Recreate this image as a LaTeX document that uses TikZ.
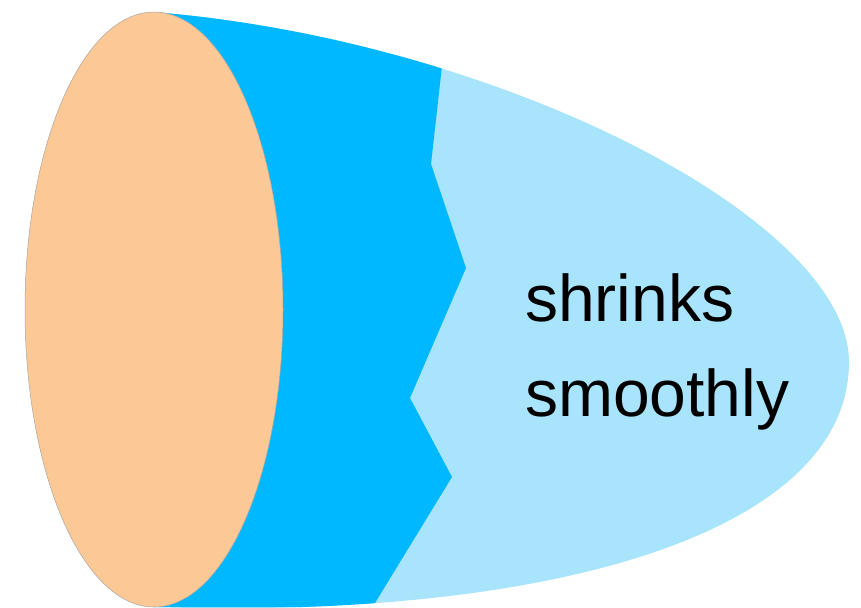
\documentclass[tikz,border=0pt]{standalone}
\usepackage{fontspec}
\setmainfont{Liberation Sans}
\definecolor{capfill}{RGB}{252,201,150}
\definecolor{darkpart}{RGB}{0,184,255}
\definecolor{lightpart}{RGB}{168,228,252}
\begin{document}
\begin{tikzpicture}[x=1pt, y=-1pt,
    label text/.style={anchor=base west, inner sep=0pt, font=\fontsize{66}{80}\selectfont}]
        % Рамка рисунка
        \useasboundingbox (0,0) rectangle (861,607);

        % Точки ломаной границы между тёмной и светлой частью
        \coordinate (z1) at (442,66);
        \coordinate (z2) at (431,164);
        \coordinate (z3) at (466,268);
        \coordinate (z4) at (410,398);
        \coordinate (z5) at (452,477);
        \coordinate (z6) at (375,603);

        % Контур всей фигуры
        \def\outline{(153,12) .. controls (500,40) and (849,220) .. (849,362)
            .. controls (849,530) and (560,620) .. (153,607) -- cycle}

        % Светлая часть (вся фигура)
        \fill[lightpart] \outline;

        % Тёмная часть: слева от ломаной
        \begin{scope}
            \clip \outline;
            \fill[darkpart] (0,0) -- (z1 |- 0,0) -- (z1) -- (z2) -- (z3) -- (z4) -- (z5) -- (z6) -- (z6 |- 0,607) -- (0,607) -- cycle;
        \end{scope}

        % Торец (эллипс)
        \draw[fill=capfill, draw=black!35, line width=0.5pt] (154,309.5) ellipse [x radius=129, y radius=297.5];

        % Подпись
        \node[label text] (line1) at (525,321) {shrinks};
        \node[label text] (line2) at (525,416.7) {smoothly};

    \end{tikzpicture}
\end{document}
